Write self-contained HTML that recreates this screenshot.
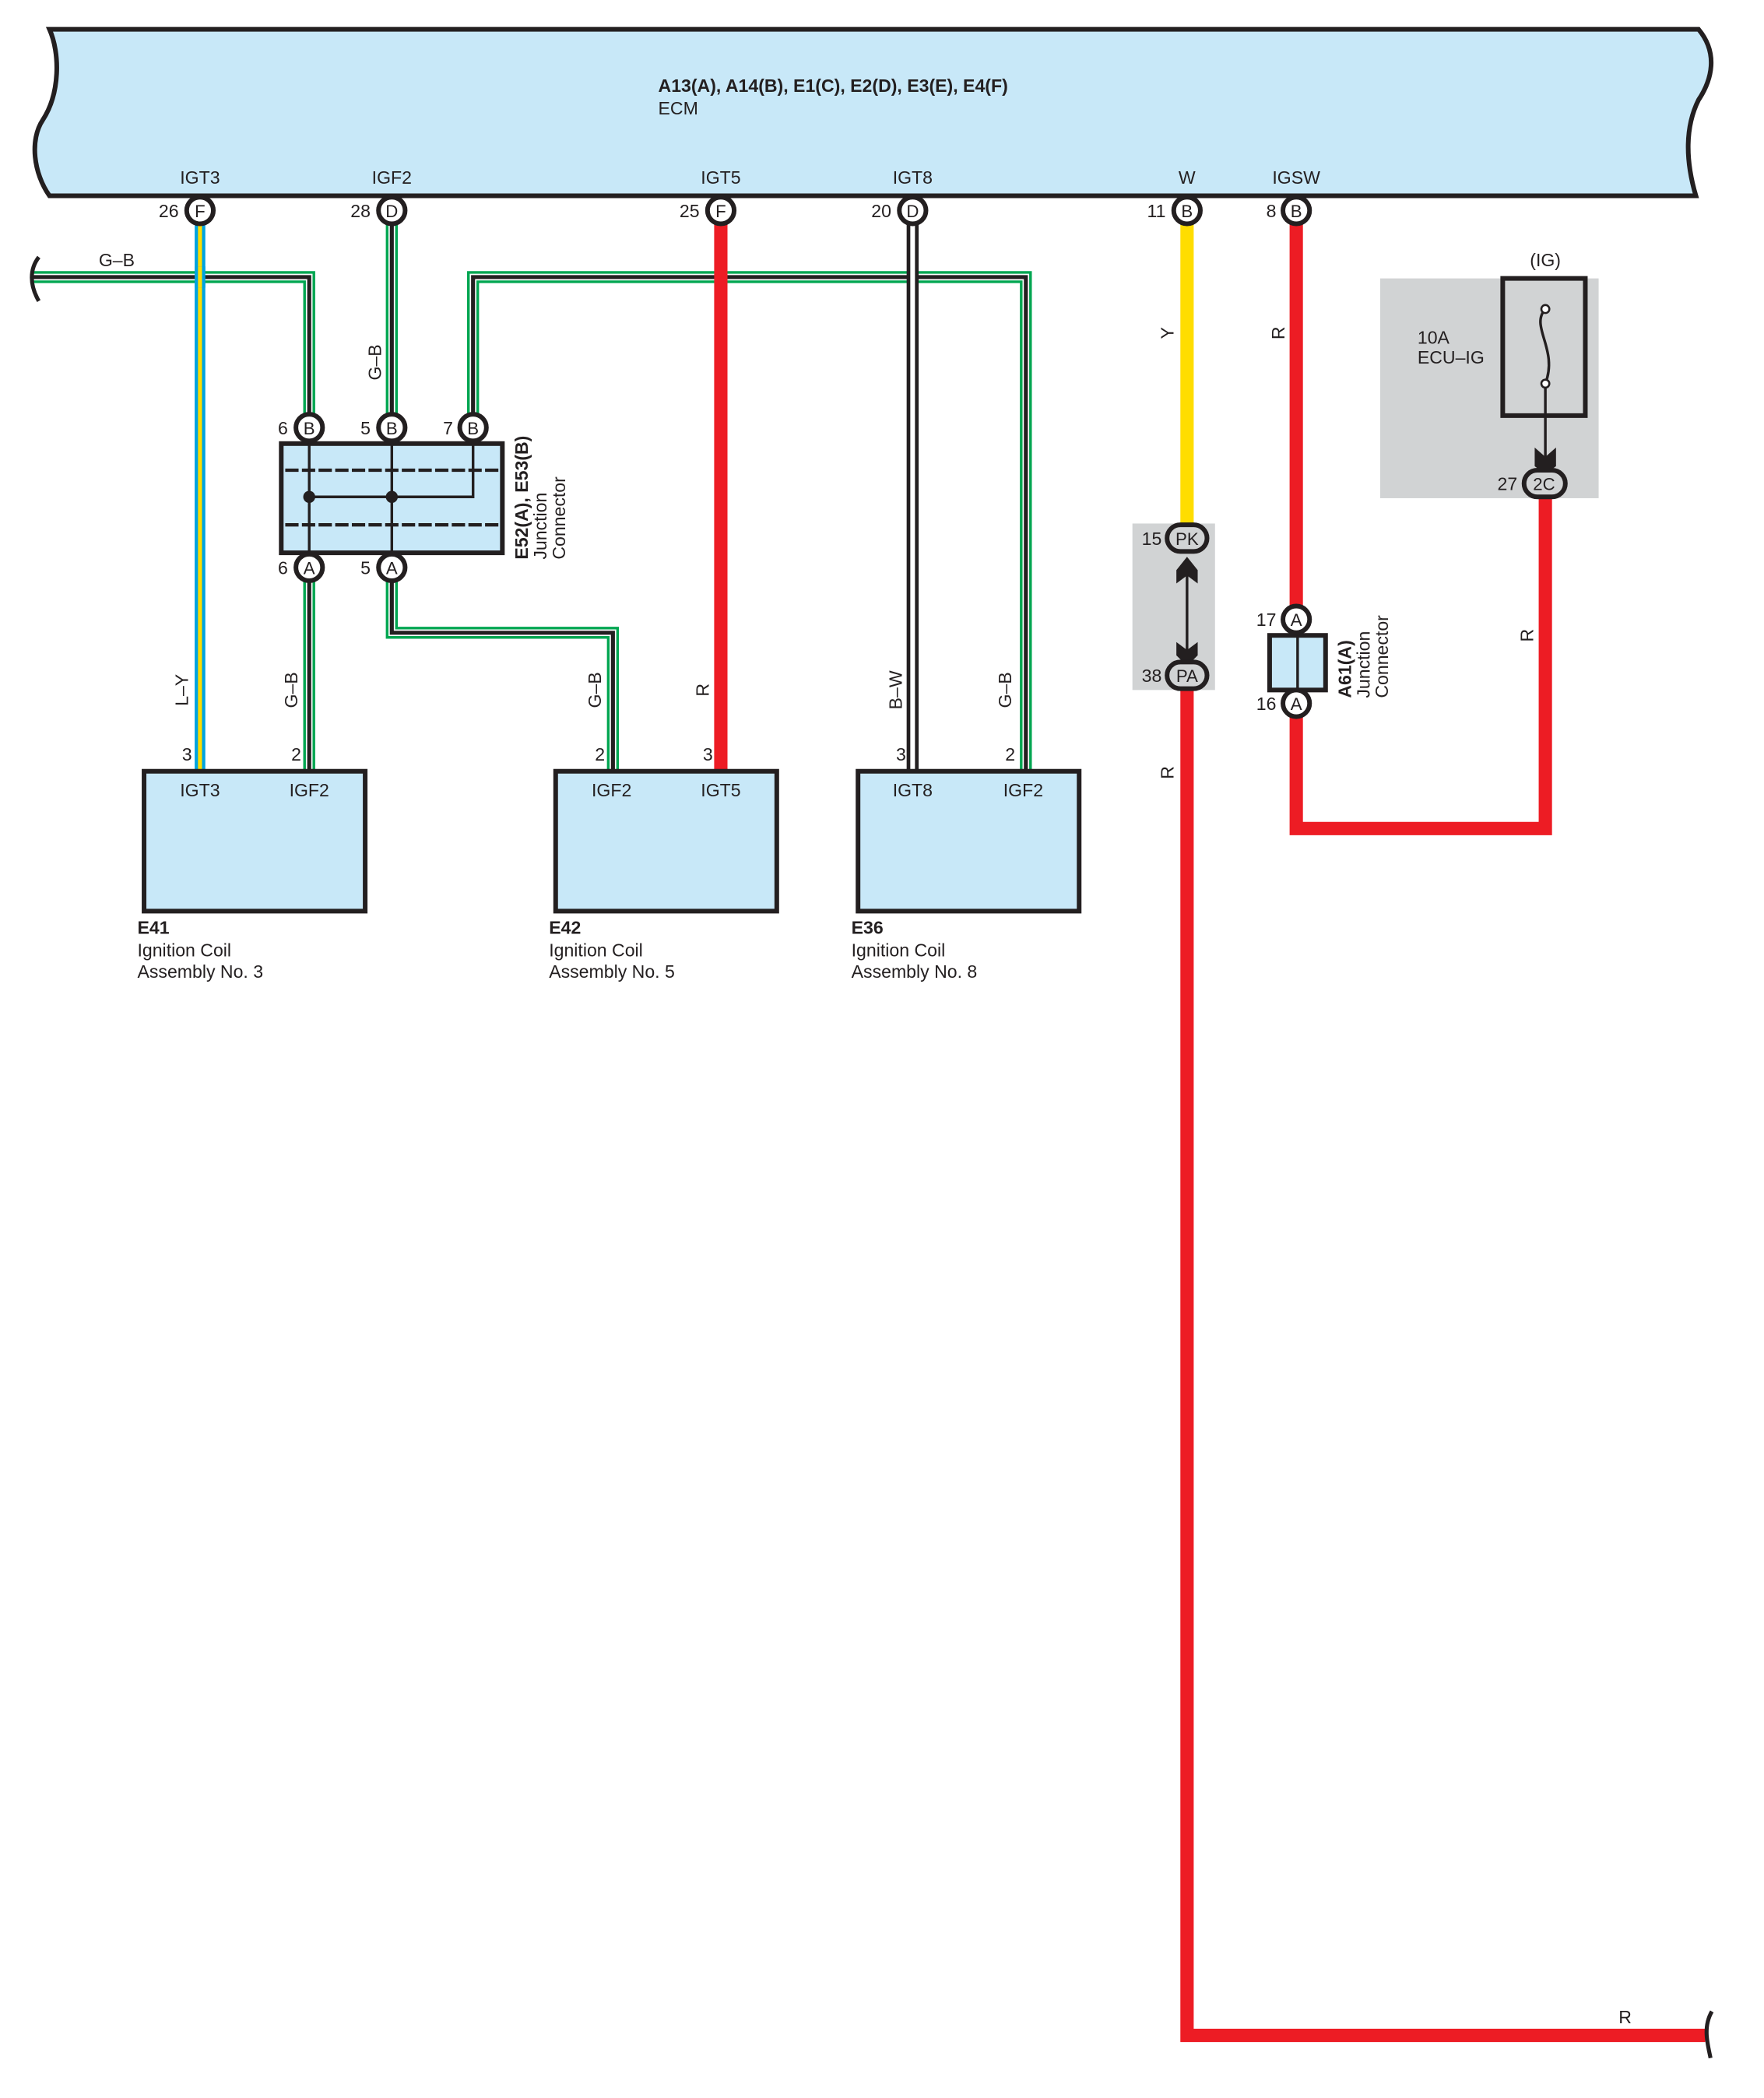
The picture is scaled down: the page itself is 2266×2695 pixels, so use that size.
<!DOCTYPE html>
<html><head><meta charset="utf-8"><style>
html,body{margin:0;padding:0;background:#fff;}
svg{display:block;}
text{font-family:"Liberation Sans",sans-serif;fill:#231f20;}
</style></head><body>
<svg width="2266" height="2695" viewBox="0 0 1324 1575" xmlns="http://www.w3.org/2000/svg">
<!-- ECM -->
<path d="M37,22 L1275,22 C1290,40 1285,60 1275,75 C1265,95 1265,120 1273,147 L37,147 C25,130 22,105 32,90 C45,70 45,40 37,22 Z" fill="#c8e8f8" stroke="#231f20" stroke-width="3.5"/>
<text x="494" y="69" font-size="13.5" font-weight="bold">A13(A), A14(B), E1(C), E2(D), E3(E), E4(F)</text>
<text x="494" y="86" font-size="13.5">ECM</text>
<g font-size="13.5" text-anchor="middle">
<text x="150" y="138">IGT3</text><text x="294" y="138">IGF2</text><text x="541" y="138">IGT5</text>
<text x="685" y="138">IGT8</text><text x="891" y="138">W</text><text x="973" y="138">IGSW</text>
</g>
<g fill="none" stroke-linejoin="miter">
<!-- L-Y -->
<path d="M150,165 V578" stroke="#00a3e0" stroke-width="8"/>
<path d="M150,165 V578" stroke="#ffdd00" stroke-width="3"/>
<!-- G-B wires -->
<g id="gb">
<path d="M25,208 H232 V320 M294,165 V320 M355,320 V208 H770 V578 M232,426 V578 M294,426 V475 H460 V578" stroke="#00a651" stroke-width="9"/>
<path d="M25,208 H232 V320 M294,165 V320 M355,320 V208 H770 V578 M232,426 V578 M294,426 V475 H460 V578" stroke="#fff" stroke-width="5"/>
<path d="M25,208 H232 V320 M294,165 V320 M355,320 V208 H770 V578 M232,426 V578 M294,426 V475 H460 V578" stroke="#231f20" stroke-width="3"/>
</g>
<!-- L-Y over G-B -->
<path d="M150,200 V216" stroke="#00a3e0" stroke-width="8"/>
<path d="M150,200 V216" stroke="#ffdd00" stroke-width="3"/>
<!-- R IGT5 -->
<path d="M541,165 V578" stroke="#ed1c24" stroke-width="10"/>
<!-- B-W -->
<path d="M685,165 V578" stroke="#231f20" stroke-width="9"/>
<path d="M685,165 V578" stroke="#fff" stroke-width="3.5"/>
<!-- Y -->
<path d="M891,165 V395" stroke="#ffdd00" stroke-width="10"/>
<!-- R main -->
<path d="M891,515 V1528 H1280" stroke="#ed1c24" stroke-width="10"/>
<path d="M973,165 V455 M973,535 V622 H1160 V372" stroke="#ed1c24" stroke-width="10"/>
</g>
<!-- wavy ends -->
<path d="M29,193 C22,202 22,214 29,226" fill="none" stroke="#231f20" stroke-width="3"/>
<path d="M1285,1510 C1278,1522 1282,1535 1284,1545" fill="none" stroke="#231f20" stroke-width="3"/>
<!-- gray boxes -->
<rect x="850" y="393" width="62" height="125" fill="#d1d3d4"/>
<rect x="1036" y="209" width="164" height="165" fill="#d1d3d4"/>
<rect x="1128" y="209" width="62" height="103" fill="none" stroke="#231f20" stroke-width="3.5"/>
<path d="M1160,232 C1148,245 1170,262 1160,288" fill="none" stroke="#231f20" stroke-width="2"/>
<circle cx="1160" cy="232" r="3" fill="#fff" stroke="#231f20" stroke-width="1.5"/>
<circle cx="1160" cy="288" r="3" fill="#fff" stroke="#231f20" stroke-width="1.5"/>
<path d="M1160,291 V345" stroke="#231f20" stroke-width="2"/>
<path d="M1152,336 L1160,343 L1168,336 L1168,350 L1160,356 L1152,350 Z" fill="#231f20"/>
<text x="1160" y="200" font-size="13.5" text-anchor="middle">(IG)</text>
<text x="1064" y="258" font-size="13.5">10A</text>
<text x="1064" y="273" font-size="13.5">ECU–IG</text>
<!-- PK PA arrows -->
<path d="M891,422 V490" stroke="#231f20" stroke-width="2"/>
<path d="M883,428 L891,418 L899,428 L899,438 L891,432 L883,438 Z" fill="#231f20"/>
<path d="M883,482 L891,488 L899,482 L899,492 L891,500 L883,492 Z" fill="#231f20"/>
<!-- junction box E52/E53 -->
<rect x="211" y="333" width="166" height="82" fill="#c8e8f8" stroke="#231f20" stroke-width="3.5"/>
<path d="M214,353 H374 M214,394 H374" stroke="#231f20" stroke-width="2.5" stroke-dasharray="10,2.5"/>
<path d="M232,330 V418 M294,330 V418 M355,330 V373 H232" fill="none" stroke="#231f20" stroke-width="2"/>
<circle cx="232" cy="373" r="4.5" fill="#231f20"/><circle cx="294" cy="373" r="4.5" fill="#231f20"/>
<g transform="translate(396,420) rotate(-90)" font-size="13.5"><text x="0" y="0" font-weight="bold">E52(A), E53(B)</text><text x="0" y="14">Junction</text><text x="0" y="28">Connector</text></g>
<!-- A61 -->
<rect x="953" y="477" width="42" height="41" fill="#c8e8f8" stroke="#231f20" stroke-width="3.5"/>
<path d="M974,477 V518" stroke="#231f20" stroke-width="2"/>
<g transform="translate(1014,524) rotate(-90)" font-size="13.5"><text x="0" y="0" font-weight="bold">A61(A)</text><text x="0" y="14">Junction</text><text x="0" y="28">Connector</text></g>
<!-- pin circles -->
<g fill="#fff" stroke="#231f20" stroke-width="3.5">
<circle cx="150" cy="158" r="10"/><circle cx="294" cy="158" r="10"/><circle cx="541" cy="158" r="10"/>
<circle cx="685" cy="158" r="10"/><circle cx="891" cy="158" r="10"/><circle cx="973" cy="158" r="10"/>
<circle cx="232" cy="321" r="10"/><circle cx="294" cy="321" r="10"/><circle cx="355" cy="321" r="10"/>
<circle cx="232" cy="426" r="10"/><circle cx="294" cy="426" r="10"/>
<circle cx="973" cy="465" r="10"/><circle cx="973" cy="528" r="10"/>
</g>
<g fill="#d1d3d4" stroke="#231f20" stroke-width="3.5">
<rect x="876" y="394" width="30" height="20" rx="10"/><rect x="876" y="497" width="30" height="20" rx="10"/>
<rect x="1144" y="353" width="31" height="20" rx="10"/>
</g>
<g font-size="13" text-anchor="middle">
<text x="150" y="163">F</text><text x="294" y="163">D</text><text x="541" y="163">F</text><text x="685" y="163">D</text><text x="891" y="163">B</text><text x="973" y="163">B</text>
<text x="232" y="326">B</text><text x="294" y="326">B</text><text x="355" y="326">B</text>
<text x="232" y="431">A</text><text x="294" y="431">A</text><text x="973" y="470">A</text><text x="973" y="533">A</text>
<text x="891" y="409">PK</text><text x="891" y="512">PA</text><text x="1159" y="368">2C</text>
</g>
<g font-size="13.5" text-anchor="end">
<text x="134" y="163">26</text><text x="278" y="163">28</text><text x="525" y="163">25</text><text x="669" y="163">20</text><text x="875" y="163">11</text><text x="958" y="163">8</text>
<text x="216" y="326">6</text><text x="278" y="326">5</text><text x="340" y="326">7</text>
<text x="216" y="431">6</text><text x="278" y="431">5</text>
<text x="872" y="409">15</text><text x="872" y="512">38</text>
<text x="958" y="470">17</text><text x="958" y="533">16</text><text x="1139" y="368">27</text>
<text x="144" y="571">3</text><text x="226" y="571">2</text><text x="454" y="571">2</text><text x="535" y="571">3</text><text x="680" y="571">3</text><text x="762" y="571">2</text>
</g>
<!-- coils -->
<g fill="#c8e8f8" stroke="#231f20" stroke-width="3.5">
<rect x="108" y="579" width="166" height="105"/><rect x="417" y="579" width="166" height="105"/><rect x="644" y="579" width="166" height="105"/>
</g>
<g font-size="13.5" text-anchor="middle">
<text x="150" y="598">IGT3</text><text x="232" y="598">IGF2</text>
<text x="459" y="598">IGF2</text><text x="541" y="598">IGT5</text>
<text x="685" y="598">IGT8</text><text x="768" y="598">IGF2</text>
</g>
<g font-size="13.5">
<text x="103" y="701" font-weight="bold">E41</text><text x="103" y="718">Ignition Coil</text><text x="103" y="734">Assembly No. 3</text>
<text x="412" y="701" font-weight="bold">E42</text><text x="412" y="718">Ignition Coil</text><text x="412" y="734">Assembly No. 5</text>
<text x="639" y="701" font-weight="bold">E36</text><text x="639" y="718">Ignition Coil</text><text x="639" y="734">Assembly No. 8</text>
</g>
<!-- wire labels -->
<text x="74" y="200" font-size="13.5">G–B</text>
<text x="1215" y="1519" font-size="13.5">R</text>
<g font-size="13.5" text-anchor="middle">
<text transform="translate(141,518) rotate(-90)">L–Y</text>
<text transform="translate(223,518) rotate(-90)">G–B</text>
<text transform="translate(451,518) rotate(-90)">G–B</text>
<text transform="translate(532,518) rotate(-90)">R</text>
<text transform="translate(677,518) rotate(-90)">B–W</text>
<text transform="translate(759,518) rotate(-90)">G–B</text>
<text transform="translate(286,272) rotate(-90)">G–B</text>
<text transform="translate(881,250) rotate(-90)">Y</text>
<text transform="translate(964,250) rotate(-90)">R</text>
<text transform="translate(1151,477) rotate(-90)">R</text>
<text transform="translate(881,580) rotate(-90)">R</text>
</g>
</svg>
</body></html>
